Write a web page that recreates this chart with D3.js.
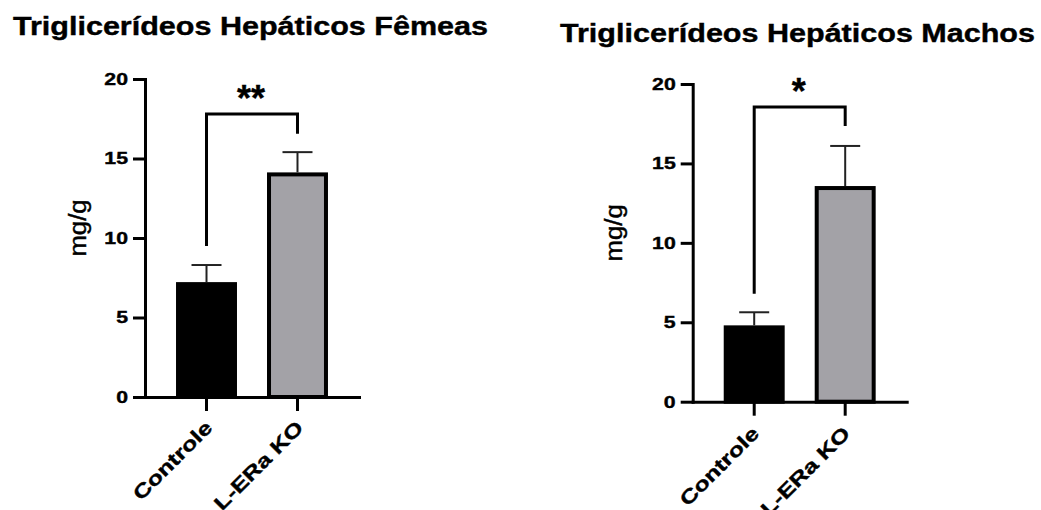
<!DOCTYPE html>
<html>
<head>
<meta charset="utf-8">
<script src="https://cdn.jsdelivr.net/npm/d3@7"></script>
<style>
  body { margin: 0; background: #fff; }
  text { font-family: "Liberation Sans", Arial, sans-serif; fill: #000; stroke: #000; stroke-width: 0.4px; }
</style>
</head>
<body>
<svg id="board" width="1041" height="510"></svg>
<script>
// values
var groups = ["Controle", "L-ERa KO"];
var yTicks = [0, 5, 10, 15, 20];

var femeasMean = [7.1, 14.0];
var femeasSem = [1.2, 1.4];
var femeasBracket = [9.5, 17.8, 16.55];   // left end, top, right end
var femeasStars = "**";

var machosMean = [4.68, 13.45];
var machosSem = [0.95, 2.65];
var machosBracket = [6.8, 18.55, 17.35];
var machosStars = "*";

var barColors = ["#000000", "#a3a2a7"];

var board = d3.select("#board");

// the picture's text is wider than Arial, stretch it a bit
function widen(sel, k)
{
  sel.each(function(){
    var w = this.getComputedTextLength();
    d3.select(this).attr("textLength", w*k).attr("lengthAdjust", "spacingAndGlyphs");
  });
}

function drawChart(o)
{
  var g = board.append("g").attr("transform", "translate(" + o.left + "," + o.top + ")");
  var w = 214, h = o.height;

  var x = d3.scaleBand().domain(groups).range([0, w]).paddingInner(0.33).paddingOuter(0.341);
  var y = d3.scaleLinear().domain([0, 20]).range([h, 0]);

  // bars
  g.selectAll("rect.bar").data(groups).enter().append("rect")
      .attr("class", "bar")
      .attr("x", function(d){ return x(d) + 2; })
      .attr("width", x.bandwidth() - 4)
      .attr("y", function(d, i){ return y(o.mean[i]); })
      .attr("height", function(d, i){ return h - y(o.mean[i]); })
      .attr("fill", function(d, i){ return barColors[i]; })
      .attr("stroke", "#000")
      .attr("stroke-width", 4);

  // error bars (upper half only)
  groups.forEach(function(d, i){
    var cx = x(d) + x.bandwidth()/2;
    g.append("line")
        .attr("x1", cx).attr("x2", cx)
        .attr("y1", y(o.mean[i]) - 2).attr("y2", y(o.mean[i] + o.sem[i]))
        .attr("stroke", "#222").attr("stroke-width", 2);
    g.append("line")
        .attr("x1", cx - 15).attr("x2", cx + 15)
        .attr("y1", y(o.mean[i] + o.sem[i])).attr("y2", y(o.mean[i] + o.sem[i]))
        .attr("stroke", "#222").attr("stroke-width", 2);
  });

  // axes
  var yAxis = g.append("g")
      .call(d3.axisLeft(y).tickValues(yTicks).tickSize(12).tickSizeOuter(0).tickPadding(5));
  var xAxis = g.append("g").attr("transform", "translate(0," + h + ")")
      .call(d3.axisBottom(x).tickSize(14).tickSizeOuter(0));

  [yAxis, xAxis].forEach(function(a){
    a.select(".domain").attr("stroke-width", 3).attr("stroke-linecap", "square");
    a.selectAll(".tick line").attr("stroke-width", 3);
  });

  yAxis.selectAll("text")
      .style("font-size", "17px").style("font-weight", "bold")
      .attr("fill", "#000").attr("font-family", null);
  widen(yAxis.selectAll("text"), 1.25);

  xAxis.selectAll("text")
      .style("font-size", "19.5px").style("font-weight", "bold")
      .attr("fill", "#000").attr("font-family", null)
      .attr("y", 0).attr("dy", 0)
      .attr("text-anchor", "end")
      .attr("transform", "translate(" + o.labelDx + "," + o.labelDy + ") rotate(-45)");
  widen(xAxis.selectAll("text"), 1.28);

  // significance bracket
  var bx0 = x(groups[0]) + x.bandwidth()/2, bx1 = x(groups[1]) + x.bandwidth()/2;
  g.append("path")
      .attr("d", d3.line()([[bx0, y(o.bracket[0])], [bx0, y(o.bracket[1])],
                             [bx1, y(o.bracket[1])], [bx1, y(o.bracket[2])]]))
      .attr("fill", "none").attr("stroke", "#000").attr("stroke-width", 3);
  g.append("text")
      .attr("x", (bx0 + bx1)/2 - 1)
      .attr("y", y(o.bracket[1]) + o.starDy)
      .attr("text-anchor", "middle")
      .style("font-size", "36px").style("font-weight", "bold")
      .text(o.stars);

  // y title
  var yt = g.append("text")
      .attr("transform", "translate(" + (-o.yTitleDx) + "," + (h/2 - 10) + ") rotate(-90)")
      .attr("text-anchor", "middle")
      .style("font-size", "23px")
      .text("mg/g");
  widen(yt, 1.12);

  // chart title
  var t = board.append("text")
      .attr("x", o.titleX).attr("y", o.titleY)
      .style("font-size", "25px").style("font-weight", "bold")
      .text(o.title);
  t.attr("textLength", 475).attr("lengthAdjust", "spacingAndGlyphs");
}

drawChart({
  left: 145, top: 79, height: 318,
  mean: femeasMean, sem: femeasSem, bracket: femeasBracket, stars: femeasStars,
  starDy: -3, labelDx: 7, labelDy: 32, yTitleDx: 59,
  title: "Triglicerídeos Hepáticos Fêmeas", titleX: 13, titleY: 35
});

drawChart({
  left: 692.7, top: 84, height: 317.7,
  mean: machosMean, sem: machosSem, bracket: machosBracket, stars: machosStars,
  starDy: -3, labelDx: 6, labelDy: 33, yTitleDx: 71,
  title: "Triglicerídeos Hepáticos Machos", titleX: 560, titleY: 42
});
</script>
</body>
</html>
